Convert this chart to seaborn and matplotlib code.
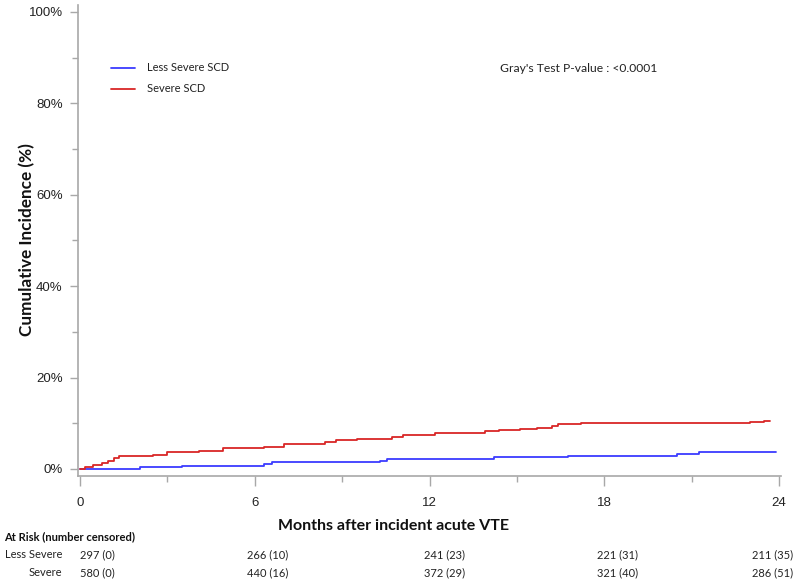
import matplotlib
matplotlib.use("Agg")
import matplotlib.pyplot as plt
import seaborn as sns
import pandas as pd
import numpy as np
from matplotlib.ticker import MultipleLocator, FuncFormatter

# ---- data ----
groups = ["Less Severe SCD", "Severe SCD"]
less_t = [0, 2.06, 3.5, 6.3, 6.6, 10.3, 10.55, 14.2, 16.75, 20.5, 21.25, 23.9]
less_v = [0, 0.4, 0.7, 1.1, 1.5, 1.8, 2.2, 2.5, 2.9, 3.3, 3.7, 3.7]
sev_t = [0, 0.17, 0.45, 0.75, 0.95, 1.15, 1.35, 2.5, 3.0, 4.1, 4.9, 6.3, 7.0, 8.4,
         8.8, 9.5, 10.7, 11.1, 12.2, 13.9, 14.4, 15.1, 15.7, 16.2, 16.4, 17.2, 18.3,
         23.0, 23.5, 23.7]
sev_v = [0, 0.5, 0.8, 1.2, 1.8, 2.4, 2.9, 3.1, 3.6, 3.9, 4.5, 4.9, 5.4, 5.9,
         6.3, 6.6, 7.0, 7.4, 7.8, 8.2, 8.5, 8.7, 8.9, 9.3, 9.8, 10.0, 10.1,
         10.3, 10.5, 10.5]
risk_times = [0, 6, 12, 18, 24]
risk_rows = ["Less Severe", "Severe"]
risk_less = ["297 (0)", "266 (10)", "241 (23)", "221 (31)", "211 (35)"]
risk_severe = ["580 (0)", "440 (16)", "372 (29)", "321 (40)", "286 (51)"]
pvalue_text = "Gray's Test P-value : <0.0001"

df = pd.concat([
    pd.DataFrame({"t": less_t, "v": less_v, "g": groups[0]}),
    pd.DataFrame({"t": sev_t, "v": sev_v, "g": groups[1]}),
], ignore_index=True)

sns.set_theme(style="white")
plt.rcParams["font.family"] = ["Liberation Sans", "DejaVu Sans"]
CAL = ["Lato", "DejaVu Sans"]

fig = plt.figure(figsize=(8, 5.85), dpi=100)
ax = fig.add_axes([78/800, 1-476/585, (781-78)/800, (476-5)/585])

palette = {groups[0]: "#3c3cff", groups[1]: "#d92626"}
sns.lineplot(data=df, x="t", y="v", hue="g", palette=palette, estimator=None,
             sort=False, drawstyle="steps-post", linewidth=1.3, ax=ax)

ax.set_xlim(-0.07, 24.07)
ax.set_ylim(-1.55, 101.5)
ax.xaxis.set_major_locator(MultipleLocator(6))
ax.xaxis.set_minor_locator(MultipleLocator(3))
ax.yaxis.set_major_locator(MultipleLocator(20))
ax.yaxis.set_minor_locator(MultipleLocator(10))
ax.yaxis.set_major_formatter(FuncFormatter(lambda v, p: f"{int(round(v))}%"))

for s in ["top", "right"]:
    ax.spines[s].set_visible(False)
for s in ["left", "bottom"]:
    ax.spines[s].set_color("#a8a8a8")
    ax.spines[s].set_linewidth(1.2)
ax.tick_params(which="both", direction="out", color="#a8a8a8", width=1.0,
               labelsize=9.5, labelcolor="#222222")
ax.tick_params(which="major", length=7, bottom=True, left=True)
ax.tick_params(which="minor", length=4, bottom=True, left=True)
ax.tick_params(axis="x", which="major", pad=8)
ax.tick_params(axis="y", which="major", length=6, pad=5)

ax.set_xlabel("")
ax.set_ylabel("")
fig.text(27/800, 1-240/585, "Cumulative Incidence (%)", rotation=90,
         ha="center", va="center", fontsize=12.3, fontweight="bold", color="#111111",
         family=CAL)
fig.text(393/800, 1-526/585, "Months after incident acute VTE", ha="center",
         va="center", fontsize=11.5, fontweight="bold", color="#111111",
         family=CAL)

handles, labels = ax.get_legend_handles_labels()
leg = ax.legend(handles, labels, loc="upper left", bbox_to_anchor=(0.047, 0.878),
                frameon=False, handlelength=2.2, handletextpad=1.0,
                labelspacing=0.9, borderpad=0, borderaxespad=0,
                prop={"family": CAL, "size": 8})
for t in leg.get_texts():
    t.set_color("#222222")

fig.text(500/800, 1-68/585, pvalue_text, ha="left", va="center", fontsize=8.7,
         color="#222222", family=CAL)

# at-risk table
fig.text(4/800, 1-537/585, "At Risk (number censored)", ha="left", va="center",
         fontsize=8, fontweight="bold", color="#111111", family=CAL)
row_y = [1-555/585, 1-573/585]
for lab, yy in zip(risk_rows, row_y):
    fig.text(62/800, yy, lab, ha="right", va="center", fontsize=8,
             color="#222222", family=CAL)
trans = matplotlib.transforms.blended_transform_factory(ax.transData, fig.transFigure)
offsets = [0.0, -0.25, -0.2, -0.25, 0.5]
for vals, yy in zip([risk_less, risk_severe], row_y):
    for i, (tt, val) in enumerate(zip(risk_times, vals)):
        ha = "right" if i == len(risk_times) - 1 else "left"
        ax.text(tt + offsets[i], yy, val, transform=trans, ha=ha, va="center",
                fontsize=8, color="#222222", family=CAL, clip_on=False)

fig.savefig("out.png", dpi=100)
